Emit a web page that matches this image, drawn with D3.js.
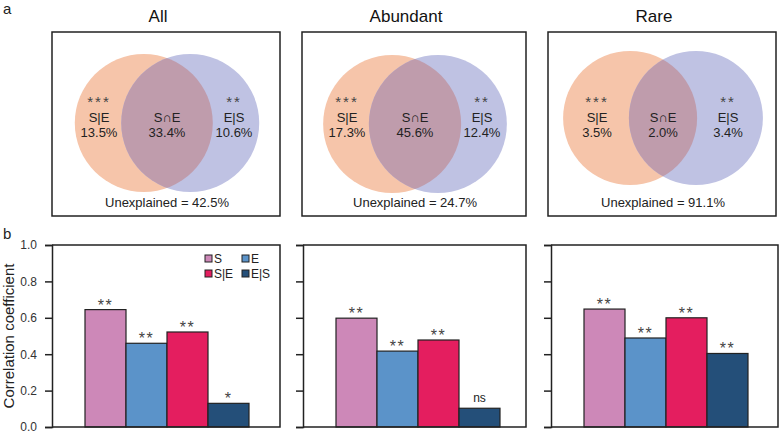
<!DOCTYPE html>
<html>
<head>
<meta charset="utf-8">
<script src="https://cdn.jsdelivr.net/npm/d3@7"></script>
<style>
  html, body { margin: 0; padding: 0; background: #fff; }
  svg { display: block; font-family: "Liberation Sans", Arial, sans-serif; }
</style>
</head>
<body>
<svg id="chart" width="780" height="433"></svg>
<script>
// ---------------- DATA ----------------
const groups = ["All", "Abundant", "Rare"];
const seVals = [13.5, 17.3, 3.5];        // S|E (%)
const sneVals = [33.4, 45.6, 2.0];       // S∩E (%)
const esVals = [10.6, 12.4, 3.4];        // E|S (%)
const unexplainedVals = [42.5, 24.7, 91.1];
const seSig = ["***", "***", "***"];
const esSig = ["**", "**", "**"];

const barCats = ["S", "E", "S|E", "E|S"];
const corrAll = [0.645, 0.46, 0.522, 0.13];
const corrAbundant = [0.598, 0.417, 0.478, 0.103];
const corrRare = [0.648, 0.489, 0.60, 0.404];
const sigAll = ["**", "**", "**", "*"];
const sigAbundant = ["**", "**", "**", "ns"];
const sigRare = ["**", "**", "**", "**"];
const yTicks = [0.0, 0.2, 0.4, 0.6, 0.8, 1.0];

// ---------------- LAYOUT ----------------
const svg = d3.select("#chart");
const boxes = [ {x0: 52, x1: 280}, {x0: 302, x1: 526}, {x0: 548, x1: 776} ];
const vennTop = 32, vennBottom = 216;
const vennCy = [123, 124, 118];
const vennR = [69, 69, 67];
const plots = [ {x0: 52, x1: 280}, {x0: 303, x1: 526}, {x0: 551, x1: 778} ];
const plotTop = 245, plotBottom = 427;

const barColors = d3.scaleOrdinal().domain(barCats).range(["#CD88B8", "#5B93C9", "#E41E5F", "#244F79"]);
const orangeFill = "#F6C5AA", blueFill = "#BFC2E3", overlapFill = "#BF9CAC";

// Panel letters
svg.append("text").attr("x", 3).attr("y", 14).attr("font-size", 15).attr("fill", "#222").text("a");
svg.append("text").attr("x", 3).attr("y", 239).attr("font-size", 15).attr("fill", "#222").text("b");

// distance between circle centres from the share of S explained jointly with E
const overlapFrac = groups.map((g, i) => sneVals[i] / (seVals[i] + sneVals[i]));
const distScale = d3.scaleLinear().domain([0.36, 0.72]).range([66, 46]);

const defs = svg.append("defs");

groups.forEach((g, i) => {
  const b = boxes[i];
  const cx = (b.x0 + b.x1) / 2 + 1;
  const cy = vennCy[i], r = vennR[i];
  const d = distScale(overlapFrac[i]);
  const ox = cx - d / 2, bx = cx + d / 2;

  svg.append("text").attr("x", (b.x0 + b.x1) / 2 - 8).attr("y", 22)
    .attr("text-anchor", "middle").attr("font-size", 17).attr("fill", "#111").text(g);

  const gv = svg.append("g");
  gv.append("rect").attr("x", b.x0).attr("y", vennTop).attr("width", b.x1 - b.x0).attr("height", vennBottom - vennTop)
    .attr("fill", "none").attr("stroke", "#222").attr("stroke-width", 1.5);

  gv.append("circle").attr("cx", ox).attr("cy", cy).attr("r", r).attr("fill", orangeFill);
  gv.append("circle").attr("cx", bx).attr("cy", cy).attr("r", r).attr("fill", blueFill);
  defs.append("clipPath").attr("id", "clipO" + i)
    .append("circle").attr("cx", ox).attr("cy", cy).attr("r", r);
  gv.append("circle").attr("cx", bx).attr("cy", cy).attr("r", r).attr("fill", overlapFill)
    .attr("clip-path", "url(#clipO" + i + ")");

  const lx = [cx - r + 1, cx, cx + r - 2];
  const sigs = [seSig[i], "", esSig[i]];
  const names = ["S|E", "S\u2229E", "E|S"];
  const vals = [seVals[i], sneVals[i], esVals[i]];
  lx.forEach((x, k) => {
    if (sigs[k]) gv.append("text").attr("x", x).attr("y", 106.5).attr("text-anchor", "middle")
      .attr("font-size", 15).attr("letter-spacing", 2).attr("fill", "#444").text(sigs[k]);
    gv.append("text").attr("x", x).attr("y", 122).attr("text-anchor", "middle")
      .attr("font-size", 13).attr("fill", "#222").text(names[k]);
    gv.append("text").attr("x", x).attr("y", 137).attr("text-anchor", "middle")
      .attr("font-size", 13).attr("fill", "#222").text(d3.format(".1f")(vals[k]) + "%");
  });
  gv.append("text").attr("x", cx).attr("y", 207).attr("text-anchor", "middle")
    .attr("font-size", 13).attr("fill", "#222").text("Unexplained = " + d3.format(".1f")(unexplainedVals[i]) + "%");
});

// ---------------- BAR CHARTS ----------------
const corrSets = [corrAll, corrAbundant, corrRare];
const sigSets = [sigAll, sigAbundant, sigRare];
const y = d3.scaleLinear().domain([0, 1]).range([plotBottom, plotTop]);

plots.forEach((p, i) => {
  const g = svg.append("g");
  const x = d3.scaleBand().domain(barCats).range([p.x0 + 33, p.x0 + 33 + 164]).padding(0);
  const data = barCats.map((c, k) => ({cat: c, v: corrSets[i][k], sig: sigSets[i][k]}));

  g.selectAll("rect.bar").data(data).join("rect").attr("class", "bar")
    .attr("x", d => x(d.cat)).attr("y", d => y(d.v))
    .attr("width", x.bandwidth()).attr("height", d => y(0) - y(d.v))
    .attr("fill", d => barColors(d.cat)).attr("stroke", "#222").attr("stroke-width", 1.2);

  g.selectAll("text.sig").data(data).join("text").attr("class", "sig")
    .attr("x", d => x(d.cat) + x.bandwidth() / 2)
    .attr("y", d => d.sig === "ns" ? y(d.v) - 6 : y(d.v) + 1)
    .attr("text-anchor", "middle")
    .attr("font-size", d => d.sig === "ns" ? 12 : 16)
    .attr("letter-spacing", d => d.sig === "ns" ? 0 : 1.5)
    .attr("fill", d => d.sig === "ns" ? "#222" : "#444")
    .text(d => d.sig);

  // frame: top, right, bottom
  g.append("path").attr("d", `M${p.x0},${plotTop}H${p.x1}V${plotBottom}H${p.x0}`)
    .attr("fill", "none").attr("stroke", "#222").attr("stroke-width", 1.5);

  const axis = d3.axisLeft(y).tickValues(yTicks).tickSize(7).tickPadding(8)
    .tickFormat(i === 0 ? d3.format(".1f") : "");
  const ag = g.append("g").attr("transform", `translate(${p.x0},0)`).call(axis);
  ag.select(".domain").attr("stroke", "#222").attr("stroke-width", 1.5);
  ag.selectAll(".tick line").attr("stroke", "#222").attr("stroke-width", 1.5);
  ag.selectAll(".tick text").attr("font-size", 12).attr("fill", "#333")
    .attr("font-family", "'Liberation Sans', Arial, sans-serif");
});

svg.append("text").attr("transform", `translate(14,${(plotTop + plotBottom) / 2}) rotate(-90)`)
  .attr("text-anchor", "middle").attr("font-size", 15).attr("fill", "#222").text("Correlation coefficient");

// legend (first panel)
const leg = svg.append("g");
const legPos = [[205, 255], [242, 255], [205, 270], [242, 270]];
barCats.forEach((c, k) => {
  const [lx, ly] = legPos[k];
  leg.append("rect").attr("x", lx).attr("y", ly).attr("width", 7).attr("height", 7)
    .attr("fill", barColors(c)).attr("stroke", "#222").attr("stroke-width", 1);
  leg.append("text").attr("x", lx + 9).attr("y", ly + 7.5).attr("font-size", 12).attr("fill", "#222").text(c);
});
</script>
</body>
</html>
